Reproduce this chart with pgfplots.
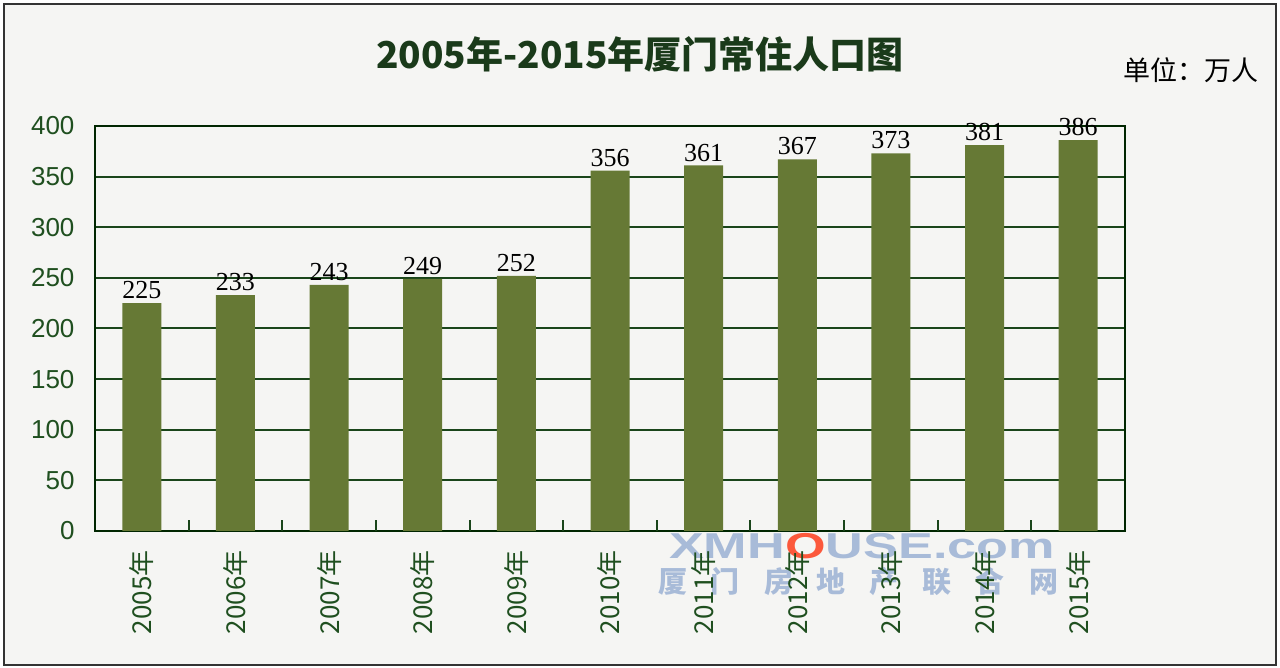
\documentclass[border=0pt]{standalone}
\usepackage{pgfplots}
\pgfplotsset{compat=1.18}
\usepackage{fontspec}
\setmainfont{Liberation Serif}
\setsansfont{Liberation Sans}
\newfontfamily\cjk{Noto Sans CJK SC}
\definecolor{bgc}{HTML}{F5F5F3}
\definecolor{barc}{HTML}{667935}
\definecolor{gridc}{HTML}{1A451A}
\definecolor{tickc}{HTML}{1F4F1F}
\definecolor{titlec}{HTML}{1A3A1A}
\definecolor{wmc}{HTML}{8FA8D0}
\begin{document}
\begin{tikzpicture}[x=1pt,y=1pt]
\useasboundingbox (0,0) rectangle (1280,668);
\fill[white] (0,0) rectangle (1280,668);
\draw[line width=2pt, draw=black!80, fill=bgc] (4,3) rectangle (1276,664);
% title and unit
\node[text=titlec, font=\cjk\bfseries\fontsize{37}{37}\selectfont] at (640,614) {2005年-2015年厦门常住人口图};
\node[text=black, font=\cjk\fontsize{27}{27}\selectfont] at (1191,598) {单位：万人};
% watermark
\node[xscale=1.45, opacity=0.75, text=wmc, font=\sffamily\bfseries\fontsize{36}{36}\selectfont] at (862,122) {XMH\textcolor{red!70!orange}{O}USE.com};
\node[opacity=0.75, text=wmc, font=\cjk\bfseries\fontsize{29}{29}\selectfont] at (858,86) {厦\hspace{24pt}门\hspace{24pt}房\hspace{24pt}地\hspace{24pt}产\hspace{24pt}联\hspace{24pt}合\hspace{24pt}网};
\begin{axis}[
  at={(95pt,137pt)}, anchor=south west,
  scale only axis, width=1030pt, height=405pt,
  ybar, bar width=39pt, bar shift=0pt,
  xmin=-0.5, xmax=10.5, ymin=0, ymax=400,
  xtick={0,...,10},
  xticklabels={{\cjk 2005年},{\cjk 2006年},{\cjk 2007年},{\cjk 2008年},{\cjk 2009年},{\cjk 2010年},{\cjk 2011年},{\cjk 2012年},{\cjk 2013年},{\cjk 2014年},{\cjk 2015年}},
  x tick label style={rotate=90, anchor=east, text=tickc, font=\fontsize{26}{26}\selectfont, xshift=-16pt},
  major tick length=0pt,
  xtick pos=left,
  extra x ticks={0.5,1.5,2.5,3.5,4.5,5.5,6.5,7.5,8.5,9.5},
  extra x tick labels={},
  extra x tick style={major tick length=11pt, tick align=inside, grid=none, tick style={draw=gridc, line width=2pt}},
  ytick={0,50,...,400},
  ytick style={draw=none},
  y tick label style={text=tickc, font=\sffamily\fontsize{26}{26}\selectfont, xshift=-17pt},
  /pgf/number format/assume math mode=true,
  ymajorgrids, grid style={draw=gridc, line width=2pt},
  axis line style={draw=black!85!green, line width=2pt},
  nodes near coords,
  nodes near coords style={text=black, font=\fontsize{26}{26}\selectfont, anchor=south, inner sep=0pt, yshift=4pt},
]
\addplot[fill=barc, draw=none] coordinates {
(0,225) (1,233) (2,243) (3,249) (4,252) (5,356) (6,361) (7,367) (8,373) (9,381) (10,386)};
\end{axis}
\end{tikzpicture}
\end{document}
